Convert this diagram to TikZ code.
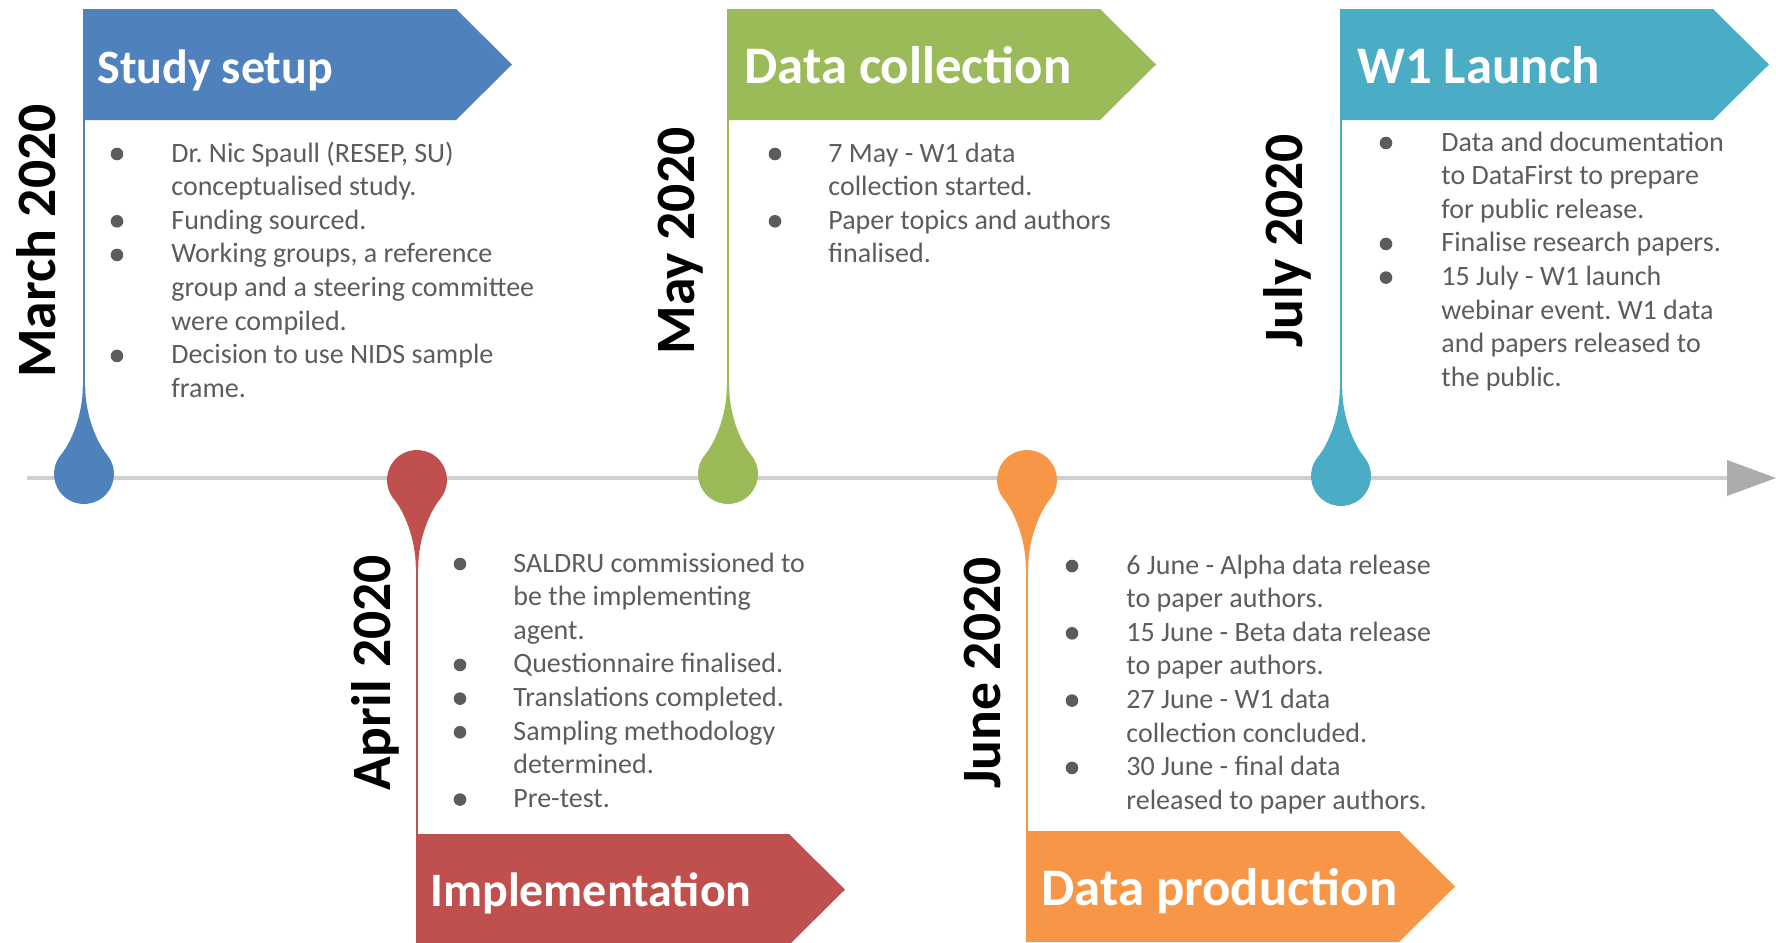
\documentclass[tikz,border=0pt]{standalone}
\usepackage{fontspec}
\setmainfont{Carlito}
\frenchspacing

\definecolor{cblue}{HTML}{4F81BD}
\definecolor{cred}{HTML}{C0504D}
\definecolor{cgreen}{HTML}{9BBB59}
\definecolor{cteal}{HTML}{4BACC6}
\definecolor{corange}{HTML}{F79646}
\definecolor{axisgray}{HTML}{D0CECE}
\definecolor{tipgray}{HTML}{AEABAB}
\definecolor{bodygray}{HTML}{5C5C5C}

\tikzset{
  phasetitle/.style={anchor=base west, inner sep=0pt, text=white,
    font=\fontsize{24}{28}\selectfont\bfseries},
  bigtitle/.style={phasetitle, font=\fontsize{26.4}{30}\selectfont\bfseries},
  monthlabel/.style={anchor=base, rotate=90, inner sep=0pt, text=black,
    font=\fontsize{27.8}{32}\selectfont\bfseries},
  bodyline/.style={anchor=base west, inner sep=0pt, text=bodygray,
    font=\fontsize{14}{17}\selectfont},
  stem/.style={line width=1.25pt},
  % teardrop marker, tail pointing up; mirror with yscale=-1
  dropmark/.pic={
    \fill (-1.2,88) .. controls (-1.2,58) and (-13.4,30.8) .. (140:30)
      arc[start angle=140,end angle=400,radius=30]
      .. controls (13.4,30.8) and (1.2,58) .. (1.2,88) -- cycle;
  },
}

% arrow-shaped phase banner: #1 left x, #2 top y, #3 colour
\newcommand\tlbanner[3]{%
  \fill[#3] (#1,#2) -- ++(373,0) -- ++(56,-55.5) -- ++(-56,-55.5) -- ++(-373,0) -- cycle;}

% bullet list, one node per line: #1 name prefix, #2 bullet x, #3 text x,
% #4 first baseline y, #5 entries flag/text (flag 1 = line opens a bullet)
\newcommand\tlitems[5]{%
  \foreach \b/\t [count=\i from 0] in {#5} {
    \node[bodyline] (#1-\i) at (#3, #4-33.65*\i) {\t};
    \ifnum\b=1 \fill[bodygray] (#2, #4-33.65*\i+8) circle (6.3); \fi
  }}

\begin{document}
\begin{tikzpicture}[x=0.5pt, y=0.5pt]
\useasboundingbox (0,0) rectangle (1776,-942);

% time axis
\coordinate (axisL) at (27,-478);
\coordinate (axisR) at (1730,-478);
\draw[axisgray, line width=2.35pt] (axisL) -- (axisR);
\fill[tipgray] (1727,-460) -- (1776,-478) -- (1727,-496) -- cycle;

% banners
\tlbanner{83}{-9}{cblue}
\tlbanner{727}{-9}{cgreen}
\tlbanner{1340}{-9}{cteal}
\tlbanner{416}{-834}{cred}
\tlbanner{1026}{-831}{corange}

\node[phasetitle] (t-setup) at (97,-83) {Study setup};
\node[bigtitle] (t-collect) at (744,-83) {Data collection};
\node[bigtitle] (t-launch) at (1357,-83) {W1 Launch};
\node[phasetitle] (t-impl) at (430,-906) {Implementation};
\node[bigtitle] (t-prod) at (1041,-905) {Data production};

% stems between banners and markers
\coordinate (b-mar) at (84,-120);   \coordinate (d-mar) at (84,-390);
\coordinate (b-may) at (728,-120);  \coordinate (d-may) at (728,-390);
\coordinate (b-jul) at (1341,-120); \coordinate (d-jul) at (1341,-390);
\coordinate (b-apr) at (417,-834);  \coordinate (d-apr) at (417,-565);
\coordinate (b-jun) at (1027,-831); \coordinate (d-jun) at (1027,-565);
\draw[stem, cblue] (b-mar) -- (d-mar);
\draw[stem, cgreen] (b-may) -- (d-may);
\draw[stem, cteal] (b-jul) -- (d-jul);
\draw[stem, cred] (b-apr) -- (d-apr);
\draw[stem, corange] (b-jun) -- (d-jun);

% markers on the axis
\pic[cblue] at (84,-474) {dropmark};
\pic[cgreen] at (728,-474) {dropmark};
\pic[cteal] at (1341,-476) {dropmark};
\pic[cred, yscale=-1] at (417,-480) {dropmark};
\pic[corange, yscale=-1] at (1027,-480) {dropmark};

% months
\node[monthlabel] (m-mar) at (55,-241) {March 2020};
\node[monthlabel] (m-may) at (694,-241) {May 2020};
\node[monthlabel] (m-jul) at (1302,-241) {July 2020};
\node[monthlabel] (m-apr) at (390,-673) {April 2020};
\node[monthlabel] (m-jun) at (1000,-673) {June 2020};

% bullet lists
\tlitems{setup}{117}{171}{-162}{
  {1/Dr. Nic Spaull (RESEP, SU)},
  {0/conceptualised study.},
  {1/Funding sourced.},
  {1/Working groups, a reference},
  {0/group and a steering committee},
  {0/were compiled.},
  {1/Decision to use NIDS sample},
  {0/frame.}}

\tlitems{collect}{775}{828}{-162}{
  {1/7 May - W1 data},
  {0/collection started.},
  {1/Paper topics and authors},
  {0/finalised.}}

\tlitems{launch}{1386}{1441}{-151}{
  {1/Data and documentation},
  {0/to DataFirst to prepare},
  {0/for public release.},
  {1/Finalise research papers.},
  {1/15 July - W1 launch},
  {0/webinar event. W1 data},
  {0/and papers released to},
  {0/the public.}}

\tlitems{impl}{460}{513}{-572}{
  {1/SALDRU commissioned to},
  {0/be the implementing},
  {0/agent.},
  {1/Questionnaire finalised.},
  {1/Translations completed.},
  {1/Sampling methodology},
  {0/determined.},
  {1/Pre-test.}}

\tlitems{prod}{1072}{1126}{-574}{
  {1/6 June - Alpha data release},
  {0/to paper authors.},
  {1/15 June - Beta data release},
  {0/to paper authors.},
  {1/27 June - W1 data},
  {0/collection concluded.},
  {1/30 June - final data},
  {0/released to paper authors.}}

\end{tikzpicture}
\end{document}
